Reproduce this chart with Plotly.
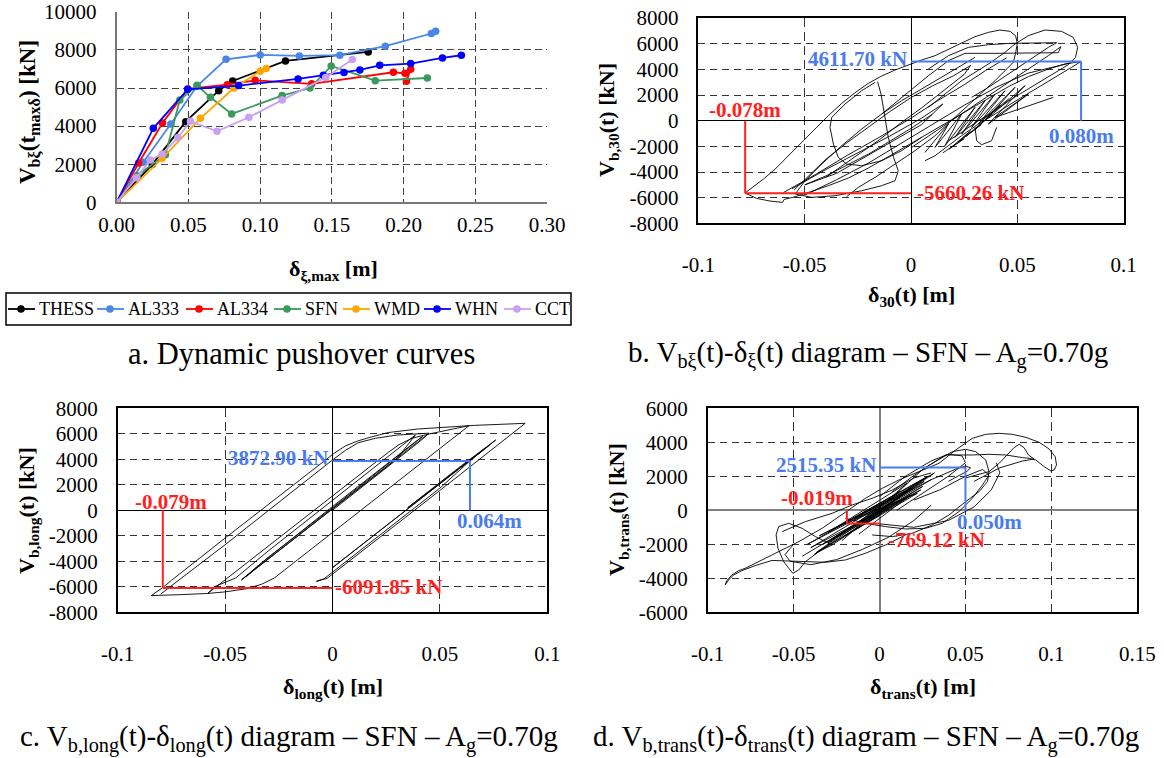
import plotly.graph_objects as go

W, H = 1164, 758
FONT = "Liberation Serif, Times New Roman, serif"
BLUE_T = "#4A7BF0"
RED_T = "#FF2020"

# ---------------- panel a: dynamic pushover curves ----------------
series_names = ["THESS", "AL333", "AL334", "SFN", "WMD", "WHN", "CCT"]
series_colors = ["#000000", "#4A86E8", "#FF0000", "#3A9A5E", "#FFA500", "#0000FF", "#C8A2F0"]
thess_x = [0, 0.0248, 0.0481, 0.0711, 0.0808, 0.1176, 0.1753]
thess_y = [0, 1995, 4234, 5862, 6369, 7419, 7895]
al333_x = [0, 0.0185, 0.0377, 0.0560, 0.0762, 0.1000, 0.1273, 0.1555, 0.1872, 0.2193, 0.2223]
al333_y = [0, 2100, 4112, 6100, 7507, 7734, 7682, 7725, 8193, 8860, 8982]
al334_x = [0, 0.0153, 0.0319, 0.0495, 0.0771, 0.0965, 0.1359, 0.1928, 0.2009, 0.2049, 0.2019]
al334_y = [0, 2065, 4164, 5949, 6177, 6404, 6220, 6825, 6772, 6982, 6351]
sfn_x = [0, 0.0142, 0.0340, 0.0440, 0.0560, 0.0653, 0.0801, 0.1153, 0.1347, 0.1495, 0.1802, 0.2165]
sfn_y = [0, 1400, 2500, 5370, 6140, 5510, 4640, 5600, 6000, 7158, 6386, 6526]
wmd_x = [0, 0.0317, 0.0583, 0.0817, 0.1000, 0.1042]
wmd_y = [0, 2310, 4409, 6002, 6877, 7017]
whn_x = [0, 0.0255, 0.0495, 0.0850, 0.1264, 0.1440, 0.1584, 0.1695, 0.1833, 0.2049, 0.2270, 0.2402]
whn_y = [0, 3885, 5932, 6125, 6475, 6675, 6807, 6947, 7193, 7281, 7579, 7719]
cct_x = [0, 0.0139, 0.0236, 0.0317, 0.0426, 0.0514, 0.0699, 0.0921, 0.1153, 0.1457, 0.1642]
cct_y = [0, 1295, 2222, 2537, 3395, 4252, 3727, 4462, 5372, 6553, 7491]
series_x = [thess_x, al333_x, al334_x, sfn_x, wmd_x, whn_x, cct_x]
series_y = [thess_y, al333_y, al334_y, sfn_y, wmd_y, whn_y, cct_y]

a_xticks = [0, 0.05, 0.10, 0.15, 0.20, 0.25, 0.30]
a_xtext = ["0.00", "0.05", "0.10", "0.15", "0.20", "0.25", "0.30"]
a_yticks = [0, 2000, 4000, 6000, 8000, 10000]

# ---------------- panel b: V_b,30 - delta_30 hysteresis ----------------
b_strokes = [
    [(-0.0781,-5636),(-0.0741,-5142),(-0.0694,-4545),(-0.0639,-3766),(-0.0577,-2727),(-0.0514,-1688),
     (-0.0451,-649),(-0.0389,390),(-0.0326,1350),(-0.0263,2181),(-0.0201,2909),(-0.0138,3480),
     (-0.0075,3947),(-0.0013,4363),(0.0050,4727),(0.0113,5064),(0.0176,5558),(0.0238,6077),
     (0.0301,6544),(0.0364,6882),(0.0418,7064),(0.0466,6960),(0.0492,6622),(0.0500,6025),
     (0.0492,5246),(0.0481,4545),(0.0395,3116),(0.0301,1688),(0.0207,260),(0.0113,-1169),
     (0.0019,-2337),(-0.0075,-3376),(-0.0169,-4415),(-0.0248,-5194),(-0.0303,-5921)],
    [(-0.0781,-5636),(-0.0726,-6051),(-0.0663,-6259),(-0.0605,-6363),(-0.0596,-6129),(-0.0545,-5921),
     (-0.0467,-5506),(-0.0389,-5064),(-0.0295,-4467),(-0.0201,-3688),(-0.0107,-2805),(-0.0013,-1896),
     (0.0082,-987),(0.0176,-52),(0.0270,831),(0.0364,1766),(0.0458,2649),(0.0552,3428),(0.0646,4025),
     (0.0724,4415),(0.0800,4612),(0.0755,4155),(0.0677,3376),(0.0583,2467),(0.0489,1506),(0.0395,519),
     (0.0317,-260),(0.0238,-1169),(0.0176,-1948),(0.0113,-2727),(0.0066,-3116)],
    [(0.0082,1039),(0.0238,3116),(0.0364,4415),(0.0442,5324),(0.0489,5973),(0.0552,6622),(0.0630,7064),
     (0.0708,6960),(0.0763,6493),(0.0784,5713),(0.0774,4934),(0.0740,4363),(0.0693,3896),(0.0630,3246),
     (0.0552,2467),(0.0473,1688),(0.0395,779),(0.0317,0),(0.0238,-909),(0.0176,-1558)],
    [(-0.0138,519),(-0.0013,2207),(0.0082,3506),(0.0176,4675),(0.0254,5246),(0.0395,5246),(0.0552,5246),
     (0.0693,5298),(0.0705,5765),(0.0646,5064),(0.0552,4025),(0.0458,2987),(0.0364,1948),(0.0270,909),
     (0.0176,-130),(0.0082,-1169),(0.0003,-2078)],
    [(0.0082,4025),(0.0176,5064),(0.0270,5713),(0.0364,5921),(0.0466,6025),(0.0567,6051),(0.0685,6077),
     (0.0646,5713),(0.0552,4675),(0.0458,3636),(0.0364,2597),(0.0285,1818)],
    [(-0.0169,2987),(-0.0232,2337),(-0.0310,1298),(-0.0373,260),(-0.0381,-519),(-0.0365,-1818),
     (-0.0342,-2857),(-0.0303,-3376),(-0.0232,-3506),(-0.0138,-3116),(-0.0044,-2337),(0.0050,-1298)],
    [(-0.0157,3038),(-0.0141,2078),(-0.0125,519),(-0.0107,-1298),(-0.0082,-2857),(-0.0060,-3896),
     (-0.0075,-4675),(-0.0138,-5064),(-0.0232,-5454),(-0.0357,-5843),(-0.0467,-5973),(-0.0545,-5713),
     (-0.0498,-4675),(-0.0420,-3376),(-0.0326,-1948),(-0.0232,-649),(-0.0138,519),(-0.0044,1558),
     (0.0050,2467),(0.0144,3376),(0.0238,4285),(0.0301,4934)],
    [(0.0066,-2467),(0.0176,-260),(0.0113,-2078),(0.0238,519),(0.0160,-1948),(0.0301,1039),(0.0207,-1298),
     (0.0348,1558),(0.0238,-1039),(0.0395,2078),(0.0285,-519),(0.0442,2337),(0.0317,-260),(0.0489,2597),
     (0.0348,0),(0.0536,2727),(0.0364,-260),(0.0552,2078),(0.0395,260),(0.0669,1818)],
    [(0.0301,-519),(0.0309,-1558),(0.0332,-1870),(0.0379,-1558),(0.0403,-519)],
    [(-0.0560,-5300),(-0.0400,-3800),(-0.0250,-2500),(-0.0100,-1200),(0.0050,200),(0.0150,1300),
     (0.0050,-300),(-0.0150,-2200),(-0.0350,-4100),(-0.0500,-5000),(-0.0400,-4300),(-0.0200,-2600),
     (0.0000,-600),(0.0100,500)],
    [(-0.0600,-5600),(-0.0450,-4200),(-0.0300,-2700),(-0.0150,-1300),(0.0000,200),(0.0120,1500),
     (0.0250,2800),(0.0350,3900),(0.0450,4900)],
    [(-0.0500,-5800),(-0.0350,-4600),(-0.0200,-3300),(-0.0050,-1800),(0.0100,-300),(0.0250,1200),
     (0.0400,2600),(0.0550,3700),(0.0700,4300),(0.0750,4500)],
    [(-0.0550,-5400),(-0.0480,-4300),(-0.0400,-3000),(-0.0300,-1700),(-0.0200,-500),(-0.0100,700),
     (0.0000,1800),(0.0100,2700),(0.0200,3500),(0.0280,4300),(0.0250,3600),(0.0150,2300),(0.0050,1000),
     (-0.0050,-200),(-0.0150,-1500),(-0.0280,-3000),(-0.0400,-4400)],
    [(0.0150,-2500),(0.0250,-1400),(0.0180,-2200),(0.0280,-800),(0.0220,-1700),(0.0330,-300),
     (0.0260,-1200),(0.0380,500),(0.0300,-700),(0.0420,1200),(0.0340,100),(0.0460,1700)],
]
b_max = (0.080, 4611.70)
b_min = (-0.078, -5660.26)

# ---------------- panel c: V_b,long - delta_long hysteresis ----------------
c_strokes = [
    [(0,0),(0.030,3960),(0.041,5450),(0.0449,6038),
     (0.040,5400),(0.000,120),(-0.030,-3840),(-0.0424,-5463),
     (-0.038,-4900),(0.000,100),(0.030,4050),(0.0386,5908),
     (0.034,5300),(0.000,760),(-0.030,-3200),(-0.045,-5300),(-0.0548,-5986),(-0.058,-6510),
     (-0.050,-5450),(-0.030,-2830),(-0.010,-190),(0.010,2450),(0.020,3760),(0.026,4550),(0.031,5150),
     (0.037,5650),(0.044,5950),(0.052,6250),(0.0636,6640),
     (0.050,4850),(0.030,2230),(0.010,-400),(-0.008,-2760),(-0.018,-4080),(-0.0225,-4700),(-0.027,-5300),
     (-0.033,-5800),(-0.040,-6150),(-0.050,-6400),(-0.058,-6520),(-0.070,-6610),(-0.0844,-6692),
     (-0.079,-6060),(-0.075,-5500),(-0.050,-2180),(-0.025,1120),(-0.010,3100),(-0.004,3900),(0.001,4500),
     (0.006,5050),(0.012,5450),(0.018,5750),(0.026,6100),(0.040,6380),(0.055,6570),(0.066,6660),(0.0897,6822),
     (0.080,5520),(0.060,2880),(0.040,240),(0.020,-2400),(0.005,-4370),(-0.0025,-5333),(-0.0075,-5570),
     (-0.004,-5380),(0.010,-3530),(0.030,-900),(0.050,1740),(0.064,3873),(0.076,5516),
     (0.060,3500),(0.035,200),(0.070,4720),(0.000,-4500),(0.073,5100),(0.030,-560),(0.060,3400)],
    [(-0.0800,-6580),(-0.0760,-6050),(-0.0500,-2700),(-0.0250,650),(-0.0080,2900),(0.0000,3950),
     (0.0060,4700),(0.0120,5300),(0.0200,5650),(0.0300,5900),(0.0450,6050)],
    [(-0.0420,-5400),(-0.0300,-3700),(0.0000,200),(0.0300,4200),(0.0420,5800),(0.0380,5300),
     (0.0000,300),(-0.0350,-4400),(-0.0400,-5200)],
]
c_max = (0.064, 3872.90)
c_min = (-0.079, -6091.85)

# ---------------- panel d: V_b,trans - delta_trans hysteresis ----------------
d_strokes = [
    [(0.000,0),(0.020,1300),(-0.035,-1500),(0.026,1700),(-0.030,-1900),(0.015,700),(-0.025,-1000),
     (0.028,2000),(-0.020,-1500),(0.022,1000),(-0.015,-500),(0.018,1300),(-0.028,-1700),(0.010,700),
     (-0.010,-800),(0.025,1400),(-0.033,-2000),(0.005,200),(-0.005,-500),(0.020,1500),(0.027,1900),
     (-0.040,-2200),(0.024,1200),(-0.037,-2500),(0.012,1100),(-0.030,-1300),(0.016,1600),(-0.022,-1800)],
    [(0.0074,1098),(0.0190,1980),(0.0307,2764),(0.0424,3450),(0.0501,3587),(0.0560,3450),(0.0618,2960),
     (0.0637,2274),(0.0628,1686),(0.0579,1098),(0.0501,510),(0.0404,-274),(0.0307,-862),(0.0190,-1352),
     (0.0074,-1548),(-0.0043,-1450)],
    [(-0.0198,-470),(-0.0082,-764),(0.0035,-960),(0.0152,-1098),(0.0268,-1058),(0.0365,-764),(0.0462,-78),
     (0.0540,706),(0.0599,1490),(0.0637,2078),(0.0600,2400),(0.0500,2000),(0.0350,1200),(0.0200,600)],
    [(0.0152,-1450),(0.0035,-2038),(-0.0082,-2528),(-0.0198,-2920),(-0.0315,-3058),(-0.0431,-3018),
     (-0.0529,-2950),(-0.0626,-2950),(-0.0723,-3250),(-0.0801,-3550),(-0.0849,-3800),(-0.0878,-4100),
     (-0.0898,-4390),(-0.0890,-4155),(-0.0859,-3802),(-0.0820,-3550),(-0.0781,-3410),(-0.0700,-3000),
     (-0.0626,-2626),(-0.0470,-1842),(-0.0334,-1058),(-0.0198,-78),(-0.0082,706),(0.0016,1294),
     (0.0113,1784),(0.0229,2274),(0.0346,2764),(0.0443,3548),(0.0540,4234),(0.0618,4469),(0.0696,4528),
     (0.0773,4469),(0.0851,4292),(0.0929,3998),(0.0987,3606),(0.1022,3156),(0.1030,2666),(0.1016,2372),
     (0.0997,2313),(0.0958,2568),(0.0909,2960),(0.0871,3058),(0.0832,3097),(0.0735,3254),(0.0637,3293),
     (0.0540,3254),(0.0385,3254),(0.0250,2400),(0.0100,1000)],
    [(0.0500,1900),(0.0637,2274),(0.0696,2764),(0.0744,3254),(0.0783,3685),(0.0812,3881),(0.0841,3685),
     (0.0867,3254),(0.0900,3018),(0.0832,2900),(0.0700,2500),(0.0550,1700)],
    [(-0.0276,-2038),(-0.0373,-1548),(-0.0451,-1058),(-0.0529,-764),(-0.0587,-960),(-0.0602,-1450),
     (-0.0591,-2234),(-0.0558,-3018),(-0.0505,-3704),(-0.0470,-3508),(-0.0431,-3018),(-0.0354,-2430),
     (-0.0276,-2038),(-0.0150,-1200),(0.0000,-300)],
    [(-0.0567,-1254),(-0.0431,-666),(-0.0276,-176),(-0.0159,314),(-0.0043,706),(0.0074,1196),
     (0.0200,1900),(0.0300,2200)],
    [(0.0300,1800),(0.0450,2450),(0.0500,2600),(0.0530,2500),(0.0510,2300),(0.0400,1700)],
    [(-0.0500,-2000),(-0.0550,-2600),(-0.0520,-3000),(-0.0400,-3200),(-0.0250,-2900),(-0.0100,-2300),
     (0.0050,-1600),(0.0200,-600),(0.0300,300)],
    [(0.0000,800),(0.0150,2000),(0.0300,2900),(0.0400,3300),(0.0480,3200),(0.0500,2800),(0.0400,2000),
     (0.0250,1000),(0.0100,0)],
    [(0.0000,-800),(0.0200,-1000),(0.0400,-600),(0.0550,200),(0.0650,1200),(0.0700,2200),(0.0680,2800)],
    [(-0.045,-2700),(0.030,1800),(-0.042,-2000),(0.032,2200),(-0.038,-2600),(0.018,900),(-0.012,-1400)],
]
d_max = (0.050, 2515.35)
d_min = (-0.019, -769.12)

hyst_xticks = [-0.1, -0.05, 0, 0.05, 0.1]
hyst_xtext = ["-0.1", "-0.05", "0", "0.05", "0.1"]
d_xticks = [-0.1, -0.05, 0, 0.05, 0.1, 0.15]
d_xtext = ["-0.1", "-0.05", "0", "0.05", "0.1", "0.15"]
bc_yticks = [-8000, -6000, -4000, -2000, 0, 2000, 4000, 6000, 8000]
d_yticks = [-6000, -4000, -2000, 0, 2000, 4000, 6000]


def flatten(strokes):
    xs, ys = [], []
    for s in strokes:
        for (x, y) in s:
            xs.append(x)
            ys.append(y)
        xs.append(None)
        ys.append(None)
    return xs, ys


def pxx(p):
    return p / W


def pxy(p):
    return 1 - p / H


fig = go.Figure()

# panel a traces
for name, col, xs, ys in zip(series_names, series_colors, series_x, series_y):
    fig.add_trace(go.Scatter(x=xs, y=ys, mode="lines+markers", name=name, showlegend=False,
                             line=dict(color=col, width=1.8),
                             marker=dict(color=col, size=7.5),
                             xaxis="x", yaxis="y"))

for strokes, ax in [(b_strokes, "2"), (c_strokes, "3"), (d_strokes, "4")]:
    xs, ys = flatten(strokes)
    fig.add_trace(go.Scatter(x=xs, y=ys, mode="lines", showlegend=False,
                             line=dict(color="black", width=0.9),
                             xaxis="x" + ax, yaxis="y" + ax))

tickfont = dict(family=FONT, size=21, color="black")

common_hyst_x = dict(showgrid=True, gridcolor="#333", griddash="9px,5px", gridwidth=1,
                     zeroline=True, zerolinecolor="black", zerolinewidth=1,
                     showline=True, mirror=True, linecolor="black", linewidth=1.5,
                     ticks="", tickfont=tickfont, ticklabelstandoff=22, tickmode="array",
                     automargin=False, ticklabeloverflow="allow")
common_hyst_y = dict(showgrid=True, gridcolor="#333", griddash="7px,5px", gridwidth=1,
                     zeroline=True, zerolinecolor="black", zerolinewidth=1,
                     showline=True, mirror=True, linecolor="black", linewidth=1.5,
                     ticks="", tickfont=tickfont, ticklabelstandoff=14, tickmode="array",
                     automargin=False, ticklabeloverflow="allow")

fig.update_layout(
    template="none",
    width=W, height=H, margin=dict(l=0, r=0, t=0, b=0, pad=0, autoexpand=False),
    paper_bgcolor="white", plot_bgcolor="white",
    font=dict(family=FONT, color="black"),
    showlegend=False,
    xaxis=dict(domain=[pxx(116.7), pxx(547.3)], range=[0, 0.3001], tickmode="array",
               tickvals=a_xticks, ticktext=a_xtext, tickfont=tickfont,
               showgrid=True, gridcolor="#444", griddash="7px,4px", gridwidth=1.2,
               zeroline=False, showline=True, linecolor="#777", linewidth=2, ticks="",
               ticklabelstandoff=2, automargin=False, ticklabeloverflow="allow"),
    yaxis=dict(domain=[pxy(202.3), pxy(11.7)], range=[0, 10005], tickmode="array",
               tickvals=a_yticks, ticktext=[str(v) for v in a_yticks], tickfont=tickfont,
               showgrid=True, gridcolor="#444", griddash="7px,4px", gridwidth=1.2,
               zeroline=False, showline=True, linecolor="#777", linewidth=2, ticks="",
               ticklabelstandoff=14, automargin=False, ticklabeloverflow="allow"),
    xaxis2=dict(domain=[pxx(698.4), pxx(1123.6)], range=[-0.1, 0.1], anchor="y2",
                tickvals=hyst_xticks, ticktext=hyst_xtext, **common_hyst_x),
    yaxis2=dict(domain=[pxy(223.4), pxy(18)], range=[-8000, 8000], anchor="x2",
                tickvals=bc_yticks, ticktext=[str(v) for v in bc_yticks], **common_hyst_y),
    xaxis3=dict(domain=[pxx(117.7), pxx(547.3)], range=[-0.1, 0.1], anchor="y3",
                tickvals=hyst_xticks, ticktext=hyst_xtext, **common_hyst_x),
    yaxis3=dict(domain=[pxy(612.3), pxy(408.3)], range=[-8000, 8000], anchor="x3",
                tickvals=bc_yticks, ticktext=[str(v) for v in bc_yticks], **common_hyst_y),
    xaxis4=dict(domain=[pxx(707.7), pxx(1137.3)], range=[-0.1, 0.15], anchor="y4",
                tickvals=d_xticks, ticktext=d_xtext, **common_hyst_x),
    yaxis4=dict(domain=[pxy(612.3), pxy(408.3)], range=[-6000, 6000], anchor="x4",
                tickvals=d_yticks, ticktext=[str(v) for v in d_yticks], **common_hyst_y),
)
fig.update_layout(xaxis4_zerolinecolor="#808080", xaxis4_zerolinewidth=2,
                  yaxis4_zerolinecolor="#808080", yaxis4_zerolinewidth=2)

# legend of panel a (boxed, one row)
leg_text_x = [39, 128, 217, 305, 374, 455, 535]
leg_y = 309
fig.add_shape(type="rect", xref="paper", yref="paper", x0=pxx(6), x1=pxx(571),
              y0=pxy(325), y1=pxy(293), line=dict(color="black", width=1.5))
for name, col, tx in zip(series_names, series_colors, leg_text_x):
    fig.add_shape(type="line", xref="paper", yref="paper", x0=pxx(tx - 31), x1=pxx(tx - 4),
                  y0=pxy(leg_y), y1=pxy(leg_y), line=dict(color=col, width=1.8))
    m = tx - 18
    fig.add_shape(type="circle", xref="paper", yref="paper", x0=pxx(m - 3.8), x1=pxx(m + 3.8),
                  y0=pxy(leg_y + 3.8), y1=pxy(leg_y - 3.8), fillcolor=col, line=dict(color=col, width=0))
    fig.add_annotation(xref="paper", yref="paper", x=pxx(tx - 2), y=pxy(leg_y), text=name,
                       showarrow=False, xanchor="left", yanchor="middle",
                       font=dict(family=FONT, size=18, color="black"))

# marker lines for peaks
for ax, mx, mn in [("2", b_max, b_min), ("3", c_max, c_min), ("4", d_max, d_min)]:
    xr, yr = "x" + ax, "y" + ax
    fig.add_shape(type="line", xref=xr, yref=yr, x0=0, y0=mx[1], x1=mx[0], y1=mx[1],
                  line=dict(color=BLUE_T, width=2))
    fig.add_shape(type="line", xref=xr, yref=yr, x0=mx[0], y0=mx[1], x1=mx[0], y1=0,
                  line=dict(color=BLUE_T, width=2))
    fig.add_shape(type="line", xref=xr, yref=yr, x0=mn[0], y0=0, x1=mn[0], y1=mn[1],
                  line=dict(color=RED_T, width=2))
    fig.add_shape(type="line", xref=xr, yref=yr, x0=mn[0], y0=mn[1], x1=0, y1=mn[1],
                  line=dict(color=RED_T, width=2))

ann_font_b = dict(family=FONT, size=21, color=BLUE_T)
ann_font_r = dict(family=FONT, size=21, color=RED_T)


def val_ann(ax, x, y, text, font, xanchor):
    fig.add_annotation(xref="x" + ax, yref="y" + ax, x=x, y=y, text="<b>" + text + "</b>",
                       showarrow=False, font=font, xanchor=xanchor, yanchor="middle")


val_ann("2", -0.001, 4800, "%.2f kN" % b_max[1], ann_font_b, "right")
val_ann("2", 0.0804, -1220, "%.3fm" % b_max[0], ann_font_b, "center")
val_ann("2", -0.078, 857, "%.3fm" % b_min[0], ann_font_r, "center")
val_ann("2", 0.002, -5640, "%.2f kN" % b_min[1], ann_font_r, "left")

val_ann("3", -0.001, 4130, "%.2f kN" % c_max[1], ann_font_b, "right")
val_ann("3", 0.0732, -836, "%.3fm" % c_max[0], ann_font_b, "center")
val_ann("3", -0.0754, 680, "%.3fm" % c_min[0], ann_font_r, "center")
val_ann("3", 0.0002, -5986, "%.2f kN" % c_min[1], ann_font_r, "left")

val_ann("4", -0.001, 2666, "%.2f kN" % d_max[1], ann_font_b, "right")
val_ann("4", 0.0637, -666, "%.3fm" % d_max[0], ann_font_b, "center")
val_ann("4", -0.0363, 705, "%.3fm" % d_min[0], ann_font_r, "center")
val_ann("4", 0.0035, -1744, "%.2f kN" % d_min[1], ann_font_r, "left")

# axis titles
title_font = dict(family=FONT, size=22, color="black")


def paper_text(xp, yp, text, font, angle=0):
    fig.add_annotation(xref="paper", yref="paper", x=pxx(xp), y=pxy(yp), text=text,
                       showarrow=False, font=font, textangle=angle,
                       xanchor="center", yanchor="middle")


paper_text(30, 112, "<b>V<sub>bξ</sub>(t<sub>maxδ</sub>) [kN]</b>", dict(family=FONT, size=23, color="black"), -90)
paper_text(333, 270, "<b>δ<sub>ξ,max</sub> [m]</b>", title_font)
paper_text(608, 120, "<b>V<sub>b,30</sub>(t) [kN]</b>", title_font, -90)
paper_text(911, 296, "<b>δ<sub>30</sub>(t) [m]</b>", title_font)
paper_text(28, 511, "<b>V<sub>b,long</sub>(t) [kN]</b>", title_font, -90)
paper_text(333, 688, "<b>δ<sub>long</sub>(t) [m]</b>", title_font)
paper_text(618, 510, "<b>V<sub>b,trans</sub>(t) [kN]</b>", title_font, -90)
paper_text(923, 688, "<b>δ<sub>trans</sub>(t) [m]</b>", title_font)

cap_font = dict(family=FONT, size=29, color="black")
paper_text(301, 354, "a. Dynamic pushover curves", dict(family=FONT, size=30.5, color="black"))
paper_text(868, 354, "b. V<sub>bξ</sub>(t)-δ<sub>ξ</sub>(t) diagram – SFN – A<sub>g</sub>=0.70g", cap_font)
paper_text(289, 738, "c. V<sub>b,long</sub>(t)-δ<sub>long</sub>(t) diagram – SFN – A<sub>g</sub>=0.70g", cap_font)
paper_text(866, 738, "d. V<sub>b,trans</sub>(t)-δ<sub>trans</sub>(t) diagram – SFN – A<sub>g</sub>=0.70g", cap_font)

# remove the page's default 8px body margin so the figure sits at the window's corner
fig.write_html("out.html", config={"displayModeBar": False},
               post_script="document.body.style.margin='0px';")
